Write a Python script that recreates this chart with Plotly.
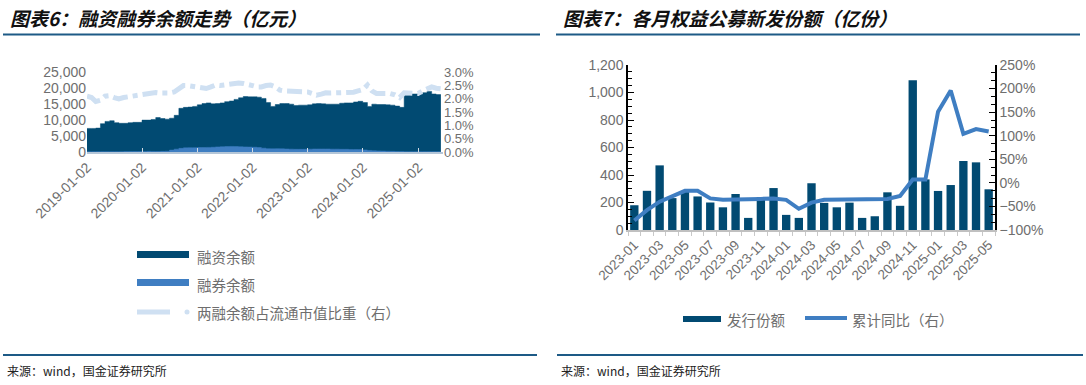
import pandas as pd
import plotly.graph_objects as go

# ---------------- data: left chart (monthly, 2019-01 .. 2025-06) ----------------
fin_dates = ["2019-01-02"] + [d.strftime("%Y-%m-%d") for d in pd.date_range("2019-02-01", "2025-06-01", freq="MS")]
financing = [7400, 7400, 7500, 8900, 9600, 9800, 9200, 9000, 9000, 9200, 9300, 9300,
             10000, 10000, 10200, 10800, 10500, 10300, 10600, 11500, 13700, 14000, 14100, 14300,
             14800, 15200, 15400, 15100, 15200, 15400, 15800, 16000, 16500, 17000, 17400, 17300,
             17300, 17200, 16800, 15500, 14300, 14900, 15200, 15200, 15000, 14600, 14700, 14700,
             14800, 15100, 15200, 15100, 15000, 15000, 15000, 15300, 15400, 15400, 15700, 15900,
             15500, 14300, 15000, 14900, 14900, 14800, 14700, 14400, 14000, 17800, 18200, 18200,
             18100, 18600, 19000, 18200, 18000, 18000]
lending = [70, 80, 100, 110, 100, 100, 100, 110, 120, 130, 140, 160,
           180, 200, 180, 170, 200, 250, 600, 900, 1150, 1300, 1350, 1350,
           1400, 1400, 1450, 1500, 1600, 1650, 1700, 1750, 1700, 1650, 1600, 1550,
           1500, 1400, 1200, 1050, 1000, 1050, 1000, 950, 900, 850, 850, 850,
           900, 950, 950, 950, 950, 900, 900, 850, 850, 800, 800, 750,
           650, 500, 400, 350, 300, 250, 200, 150, 120, 110, 110, 100,
           100, 110, 110, 110, 110, 110]
ratio = [2.10, 2.05, 1.90, 1.95, 2.10, 2.12, 2.05, 2.00, 2.05, 2.08, 2.10, 2.12,
         2.18, 2.20, 2.22, 2.24, 2.22, 2.20, 2.22, 2.26, 2.40, 2.50, 2.50, 2.48,
         2.45, 2.40, 2.39, 2.45, 2.52, 2.50, 2.52, 2.55, 2.60, 2.60, 2.58, 2.52,
         2.50, 2.45, 2.45, 2.50, 2.52, 2.45, 2.33, 2.30, 2.30, 2.30, 2.30, 2.28,
         2.26, 2.20, 2.14, 2.18, 2.23, 2.22, 2.22, 2.23, 2.22, 2.22, 2.25, 2.30,
         2.35, 2.52, 2.30, 2.20, 2.20, 2.20, 2.20, 2.15, 2.05, 2.23, 2.22, 2.20,
         2.20, 2.30, 2.38, 2.45, 2.40, 2.38]
left_ticks = ["2019-01-02", "2020-01-02", "2021-01-02", "2022-01-02", "2023-01-02", "2024-01-02", "2025-01-02"]

# ---------------- data: right chart (monthly, 2023-01 .. 2025-05) ----------------
months = ["2023-01", "2023-02", "2023-03", "2023-04", "2023-05", "2023-06", "2023-07", "2023-08",
          "2023-09", "2023-10", "2023-11", "2023-12", "2024-01", "2024-02", "2024-03", "2024-04",
          "2024-05", "2024-06", "2024-07", "2024-08", "2024-09", "2024-10", "2024-11", "2024-12",
          "2025-01", "2025-02", "2025-03", "2025-04", "2025-05"]
issuance = [180, 285, 470, 232, 278, 244, 200, 165, 262, 88, 238, 305, 110, 88, 340, 197,
            165, 199, 88, 100, 274, 176, 1090, 368, 284, 327, 502, 492, 296]
cum_yoy = [-80, -58, -40, -29, -17, -17, -33, -36, -36, -36, -34, -33, -36, -55, -42, -36,
           -36, -34, -36, -36, -34, -28, 7, 7, 151, 196, 104, 114, 109]

W, H = 1086, 385
DARK = "#014a72"
MID = "#3f7ec2"
LIGHT = "#cfe0f2"
GRAY = "#6e6e6e"
FONT = "Liberation Sans, Arial, Noto Sans CJK SC"
CJK = "Noto Sans CJK SC"


def px(x):
    return x / W


def py(y):
    return 1 - y / H


fig = go.Figure()

# left chart
fig.add_trace(go.Scatter(x=fin_dates, y=financing, mode="lines", line=dict(width=0.5, color=DARK, shape="hv"),
                         fill="tozeroy", fillcolor=DARK, xaxis="x", yaxis="y", showlegend=False))
fig.add_trace(go.Scatter(x=fin_dates, y=lending, mode="lines", line=dict(width=0.5, color=MID, shape="hv"),
                         fill="tozeroy", fillcolor=MID, xaxis="x", yaxis="y", showlegend=False))
fig.add_trace(go.Scatter(x=fin_dates, y=ratio, mode="lines", line=dict(width=5, color=LIGHT, dash="dashdot"),
                         xaxis="x", yaxis="y2", showlegend=False))

# right chart
x_idx = list(range(len(months)))
fig.add_trace(go.Bar(x=x_idx, y=issuance, marker=dict(color=DARK, line=dict(width=0)),
                     xaxis="x3", yaxis="y3", showlegend=False))
fig.add_trace(go.Scatter(x=x_idx, y=cum_yoy, mode="lines", line=dict(width=4, color=MID),
                         xaxis="x3", yaxis="y4", showlegend=False))

tickfont = dict(family=FONT, size=14, color=GRAY)

fig.update_layout(
    width=W, height=H, margin=dict(l=0, r=0, t=0, b=0, autoexpand=False),
    paper_bgcolor="white", plot_bgcolor="white", bargap=0.34, showlegend=False,
    xaxis=dict(domain=[px(87), px(443)], type="date", range=["2019-01-02", "2025-06-15"],
               tickmode="array", tickvals=left_ticks, ticktext=left_ticks, tickangle=-45,
               tickfont=tickfont, showgrid=False, zeroline=False, showline=True, automargin=False,
               linecolor="#b4c6d8", linewidth=1.5, ticks="inside", ticklen=4, tickcolor="#d0dae4",
               anchor="y"),
    yaxis=dict(domain=[py(152), py(72.3)], range=[0, 25000], dtick=5000, tickformat=",", automargin=False,
               tickfont=tickfont, showgrid=False, zeroline=False, showline=False, anchor="x"),
    yaxis2=dict(overlaying="y", side="right", anchor="x", range=[0, 3], dtick=0.5, tickformat=".1f",
                automargin=False, ticksuffix="%", tickfont=dict(family=FONT, size=13, color=GRAY),
                showgrid=False, zeroline=False, showline=False),
    xaxis3=dict(domain=[px(628), px(995)], range=[-0.5, len(months) - 0.5], automargin=False,
                tickmode="array", tickvals=x_idx[::2], ticktext=months[::2], tickangle=-45,
                tickfont=dict(family=FONT, size=13.5, color=GRAY), showgrid=False, zeroline=False,
                showline=True, linecolor="#c0c0c0", linewidth=1.5, ticks="",
                minor=dict(ticks="outside", tickmode="linear", tick0=0.5, dtick=1, ticklen=4,
                           tickcolor="#c8c8c8", showgrid=False),
                anchor="y3"),
    yaxis3=dict(domain=[py(230), py(65)], range=[0, 1200], dtick=200, tickformat=",", automargin=False,
                tickfont=tickfont, showgrid=False, zeroline=False, showline=True, linecolor="black",
                linewidth=1.5, ticks="inside", ticklen=6, tickcolor="black",
                minor=dict(ticks="inside", dtick=50, ticklen=4, tickcolor="black", showgrid=False),
                anchor="x3"),
    yaxis4=dict(overlaying="y3", side="right", anchor="x3", range=[-100, 250], dtick=50, automargin=False,
                ticksuffix="%", tickfont=tickfont, showgrid=False, zeroline=False, showline=True,
                linecolor="black", linewidth=1.5, ticks="inside", ticklen=6, tickcolor="black",
                minor=dict(ticks="inside", dtick=50 / 3, ticklen=4, tickcolor="black", showgrid=False)),
)

shapes = []
annotations = []

# titles and rules
for x0, x1, title in [(8, 540, "图表6：融资融券余额走势（亿元）"), (561, 1080, "图表7：各月权益公募新发份额（亿份）")]:
    annotations.append(dict(x=px(x0), y=py(17), xref="paper", yref="paper", xanchor="left", yanchor="middle",
                            text="<b><i>" + title + "</i></b>", showarrow=False,
                            font=dict(family=CJK, size=19, color="#111111")))
    shapes.append(dict(type="line", xref="paper", yref="paper", x0=px(x0 - 5), x1=px(x1),
                       y0=py(34.5), y1=py(34.5), line=dict(color="#1d5a86", width=2)))

# bottom rules and sources
for x0, x1 in [(3, 537), (557, 1083)]:
    shapes.append(dict(type="line", xref="paper", yref="paper", x0=px(x0), x1=px(x1), y0=py(355), y1=py(355),
                       line=dict(color="#1d5a86", width=2)))
    annotations.append(dict(x=px(x0 + 2), y=py(370), xref="paper", yref="paper", xanchor="left", yanchor="middle",
                            text="来源：wind，国金证券研究所", showarrow=False,
                            font=dict(family=CJK, size=12, color="#222222")))

legfont = dict(family=CJK, size=14.5, color=GRAY)

# left legend
shapes.append(dict(type="rect", xref="paper", yref="paper", x0=px(137), x1=px(189), y0=py(258), y1=py(251),
                   fillcolor=DARK, line=dict(width=0)))
annotations.append(dict(x=px(195), y=py(256), xref="paper", yref="paper", xanchor="left", yanchor="middle",
                        text="融资余额", showarrow=False, font=legfont))
shapes.append(dict(type="rect", xref="paper", yref="paper", x0=px(137), x1=px(189), y0=py(286), y1=py(279),
                   fillcolor=MID, line=dict(width=0)))
annotations.append(dict(x=px(195), y=py(284), xref="paper", yref="paper", xanchor="left", yanchor="middle",
                        text="融券余额", showarrow=False, font=legfont))
shapes.append(dict(type="line", xref="paper", yref="paper", x0=px(137), x1=px(170), y0=py(312), y1=py(312),
                   line=dict(color=LIGHT, width=5)))
shapes.append(dict(type="circle", xref="paper", yref="paper", x0=px(184.5), x1=px(189.5), y0=py(314.5), y1=py(309.5),
                   fillcolor=LIGHT, line=dict(width=0)))
annotations.append(dict(x=px(195), y=py(312), xref="paper", yref="paper", xanchor="left", yanchor="middle",
                        text="两融余额占流通市值比重（右）", showarrow=False, font=legfont))

# right legend
shapes.append(dict(type="rect", xref="paper", yref="paper", x0=px(683), x1=px(721), y0=py(322), y1=py(316),
                   fillcolor=DARK, line=dict(width=0)))
annotations.append(dict(x=px(725), y=py(319.5), xref="paper", yref="paper", xanchor="left", yanchor="middle",
                        text="发行份额", showarrow=False, font=legfont))
shapes.append(dict(type="line", xref="paper", yref="paper", x0=px(805), x1=px(847), y0=py(318), y1=py(318),
                   line=dict(color=MID, width=4)))
annotations.append(dict(x=px(850), y=py(319.5), xref="paper", yref="paper", xanchor="left", yanchor="middle",
                        text="累计同比（右）", showarrow=False, font=legfont))

fig.update_layout(shapes=shapes, annotations=annotations)
# remove the browser's default body margin so the figure sits at the page origin
fig.write_html("out.html", config={"displayModeBar": False},
               post_script="document.body.style.margin='0px';")
